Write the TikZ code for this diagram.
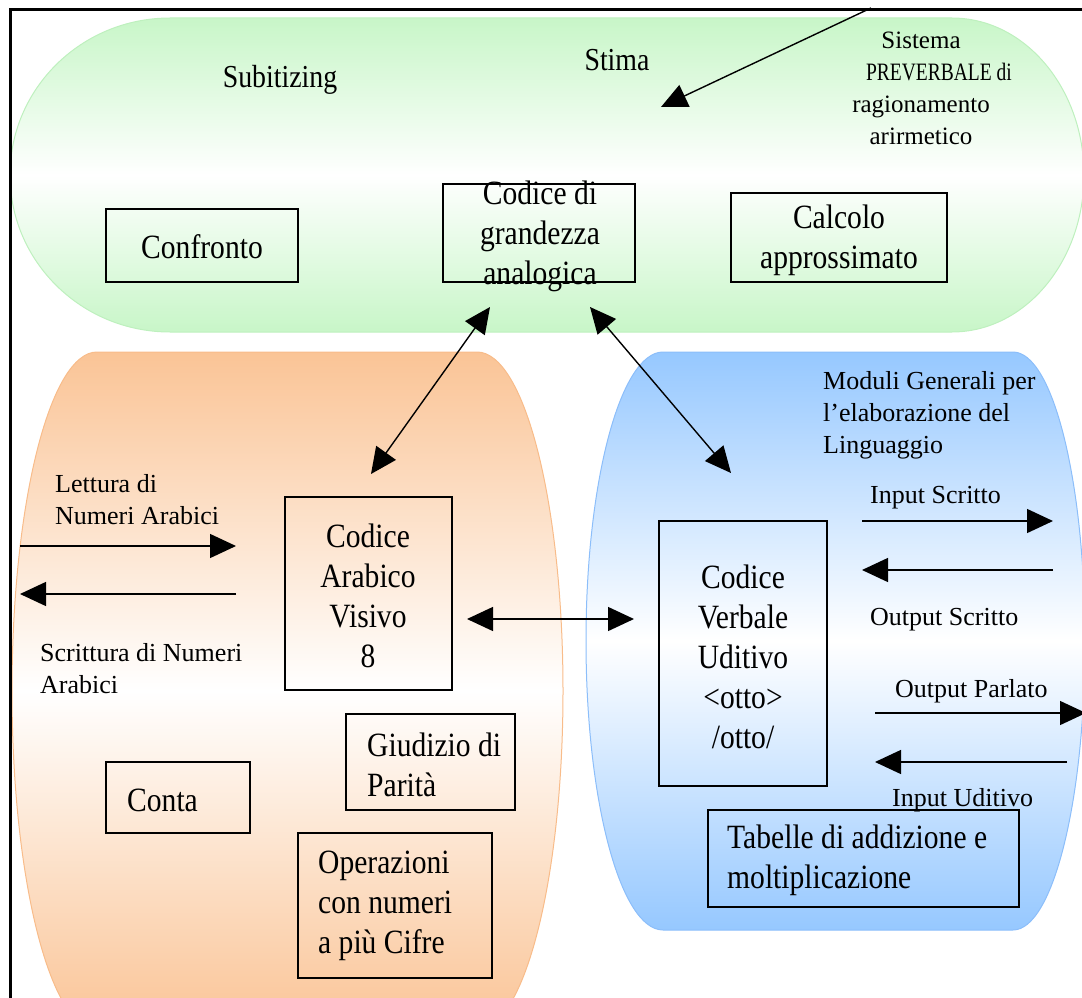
\documentclass[tikz,border=0pt]{standalone}
\usepackage{fontspec}
\setmainfont{Liberation Serif}
\newfontfamily\bxf[FakeStretch=0.87]{Liberation Serif}
\newfontfamily\syf[FakeStretch=0.78]{Liberation Serif}
\usetikzlibrary{arrows.meta}
\definecolor{gEdge}{RGB}{200,246,200}
\definecolor{gLine}{RGB}{190,240,190}
\definecolor{oEdge}{RGB}{250,196,150}
\definecolor{oLine}{RGB}{248,188,138}
\definecolor{bEdge}{RGB}{150,200,255}
\definecolor{bLine}{RGB}{140,190,250}
\begin{document}
\begin{tikzpicture}[x=1pt,y=-1pt,
  box/.style={draw, line width=2pt, inner sep=0pt},
  big/.style={font=\bxf\fontsize{34}{40}\selectfont, inner sep=0pt, align=center},
  bigl/.style={font=\bxf\fontsize{34}{40}\selectfont, inner sep=0pt, align=left, anchor=west},
  small/.style={font=\fontsize{26}{32}\selectfont, inner sep=0pt, align=left, anchor=west},
  arr/.style={line width=1.4pt, -{Triangle[length=26pt,width=24pt]}},
  dbl/.style={line width=1.4pt, {Triangle[length=26pt,width=24pt]}-{Triangle[length=26pt,width=24pt]}},
  frame/.style={line width=3pt, line cap=rect}
]
\useasboundingbox (0,0) rectangle (1082,998);

% green region
\path[draw=gLine, line width=1pt, top color=gEdge, bottom color=gEdge, middle color=white]
  (170,18) -- (952,18) arc[start angle=-90, end angle=90, x radius=132, y radius=157]
  -- (170,332) arc[start angle=90, end angle=270, x radius=160, y radius=157] -- cycle;
% orange region
\path[draw=oLine, line width=1pt, top color=oEdge, bottom color=oEdge, middle color=white]
  (97,352) -- (477,352) arc[start angle=-90, end angle=90, x radius=86, y radius=339]
  -- (97,1030) arc[start angle=90, end angle=270, x radius=85, y radius=339] -- cycle;
% blue region
\path[draw=bLine, line width=1pt, top color=bEdge, bottom color=bEdge, middle color=white]
  (663,352) -- (1013,352) arc[start angle=-90, end angle=90, x radius=72, y radius=289]
  -- (663,930) arc[start angle=90, end angle=270, x radius=77, y radius=289] -- cycle;

% boxes
\node[box, minimum width=192pt, minimum height=73pt] (confronto) at (202,245.5) {};
\node[box, minimum width=192pt, minimum height=98pt] (grandezza) at (539,233) {};
\node[box, minimum width=216pt, minimum height=89pt] (calcolo) at (839,237.5) {};
\node[box, minimum width=167pt, minimum height=193pt] (arabico) at (368.5,593.5) {};
\node[box, minimum width=169pt, minimum height=96pt] (giudizio) at (430.5,762) {};
\node[box, minimum width=144pt, minimum height=71pt] (conta) at (178,797.5) {};
\node[box, minimum width=194pt, minimum height=145pt] (operazioni) at (395,905.5) {};
\node[box, minimum width=168pt, minimum height=265pt] (verbale) at (743,653.5) {};
\node[box, minimum width=311pt, minimum height=97pt] (tabelle) at (863.5,858.5) {};

% box texts
\node[big] (tconfronto) at (202,247) {Confronto};
\node[big] (tgrandezza) at (540,236) {Codice di\\grandezza\\analogica};
\node[big] (tcalcolo) at (839,240) {Calcolo\\approssimato};
\node[big] (tarabico) at (368,596) {Codice\\Arabico\\Visivo\\8};
\node[bigl] (tgiudizio) at (367,765) {Giudizio di\\Parità};
\node[bigl] (tconta) at (127,800) {Conta};
\node[bigl] (toperazioni) at (318,906) {Operazioni\\con numeri\\a più Cifre};
\node[big] (tverbale) at (743,657) {Codice\\Verbale\\Uditivo\\<otto>\\/otto/};
\node[bigl] (ttabelle) at (727,860) {Tabelle di addizione e\\moltiplicazione};

% region labels
\node[font=\bxf\fontsize{32}{38}\selectfont, inner sep=0pt] (subit) at (280,80) {Subitizing};
\node[font=\bxf\fontsize{32}{38}\selectfont, inner sep=0pt] (stima) at (617,60) {Stima};
\node[font=\fontsize{25}{32}\selectfont, inner sep=0pt, align=center] (sistema) at (921,88)
  {Sistema\\\hspace*{36pt}{\syf PREVERBALE di}\\ragionamento\\arirmetico};
\node[small] (lettura) at (55,500) {Lettura di\\Numeri Arabici};
\node[small] (scrittura) at (40,669) {Scrittura di Numeri\\Arabici};
\node[small] (moduli) at (823,415) {Moduli Generali per\\l’elaborazione del\\Linguaggio};
\node[small] (inscr) at (870,498) {Input Scritto};
\node[small] (outscr) at (870,620) {Output Scritto};
\node[small] (outpar) at (895,691) {Output Parlato};
\node[small] (inudi) at (892,800) {Input Uditivo};

% connector end points
\coordinate (s0) at (871,8);
\coordinate (s1) at (661,107);
\coordinate (a1) at (371,474);
\coordinate (a2) at (490,307);
\coordinate (b1) at (590,307);
\coordinate (b2) at (731,473);
\coordinate (c1) at (467,619);
\coordinate (c2) at (634,619);
\coordinate (l0) at (20,546);
\coordinate (l1) at (236,546);
\coordinate (w0) at (236,594);
\coordinate (w1) at (20,594);
\coordinate (is0) at (862,521);
\coordinate (is1) at (1053,521);
\coordinate (os0) at (1053,570);
\coordinate (os1) at (862,570);
\coordinate (op0) at (875,713);
\coordinate (op1) at (1086,713);
\coordinate (iu0) at (1067,762);
\coordinate (iu1) at (875,762);

% connectors
\draw[arr] (s0) -- (s1);
\draw[dbl] (a1) -- (a2);
\draw[dbl] (b1) -- (b2);
\draw[dbl] (c1) -- (c2);
\draw[arr] (l0) -- (l1);
\draw[arr] (w0) -- (w1);
\draw[arr] (is0) -- (is1);
\draw[arr] (os0) -- (os1);
\draw[arr] (op0) -- (op1);
\draw[arr] (iu0) -- (iu1);

% frame
\coordinate (f0) at (10,998);
\coordinate (f1) at (10,10);
\coordinate (f2) at (1082,10);
\draw[frame] (f0) -- (f1) -- (f2);
\end{tikzpicture}
\end{document}
